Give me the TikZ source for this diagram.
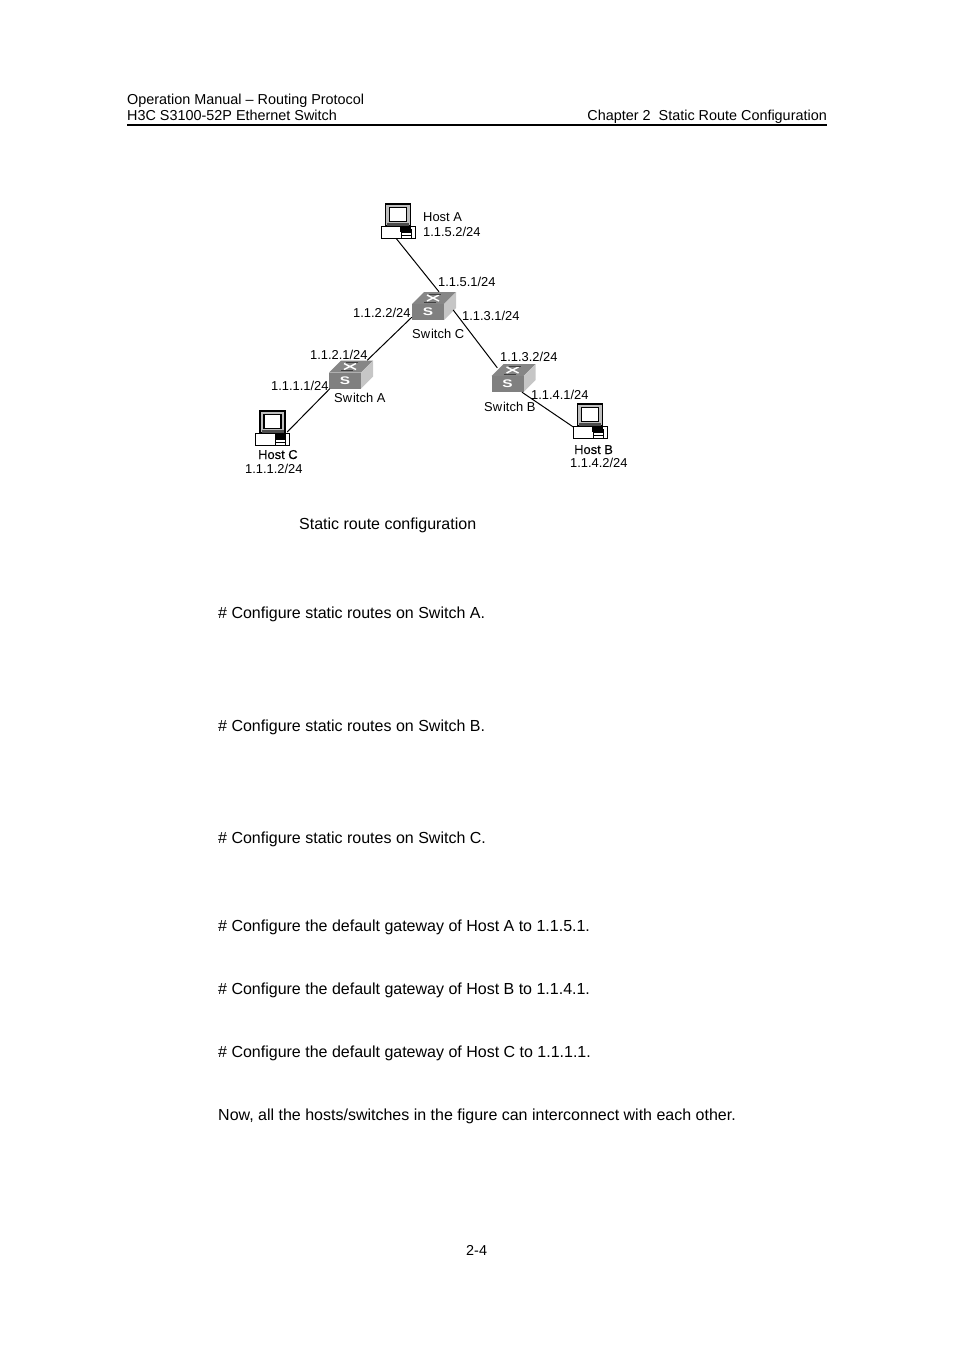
\documentclass[tikz,border=0pt]{standalone}
\usepackage{fontspec}
\setmainfont{Liberation Sans}
\newfontfamily\hostfont[FakeBold=0.12]{Liberation Sans}
\newcommand{\switchicon}[3]{
	\node[devbox,minimum width=44pt,minimum height=28pt] (#1) at (#2,#3) {};
	\begin{scope}[shift={(#2,#3)}]
		\fill[gray!95] (-22,-2) -- (-10,-14) -- (22,-14) -- (10,-2) -- cycle;
		\fill[gray!45] (10,-2) -- (22,-14) -- (22,2) -- (10,14) -- cycle;
		\fill[gray!100] (-22,-2) rectangle (10,14);
		\draw[white,line width=1.4pt] (-7,-5) -- (5,-11) (-7,-11) -- (5,-5);
		\draw[black!75,line width=0.5pt] (-5,-12) -- (7,-12) (-10,-4) -- (2,-4);
		\node[inner sep=0pt,text=white,anchor=center,font=\fontsize{11}{11}\selectfont\bfseries] (#1s) at (-6,6) {\scalebox{1.4}[1]{S}};
	\end{scope}
}
\newcommand{\hosticon}[3]{
	\node[devbox,minimum width=35pt,minimum height=34pt] (#1) at (#2,#3) {};
	\begin{scope}[shift={(#2,#3)},line width=0.8pt]
		\draw[fill=black!25,line width=1.2pt] (-12.5,-17) rectangle (12.5,5);
		\draw[fill=white,line width=1.5pt] (-8.5,-13.5) rectangle (8.5,0.5);
		\fill[black!70] (-11,2) rectangle (11,5);
		\draw[fill=white,line width=1pt] (-17,5) rectangle (17,17);
		\fill[black] (2,5) rectangle (13,10.5);
		\draw (-17,5.5) -- (2,5.5);
		\draw (3,8) rectangle (13,17);
		\draw[line width=0.7pt] (3,11.5) -- (13,11.5) (3,14) -- (13,14);
	\end{scope}
}
\begin{document}
\begin{tikzpicture}[x=1pt,y=-1pt]
	\tikzstyle{every node}=[inner sep=0pt,anchor=base west]
	\tikzstyle{devbox}=[rectangle,anchor=center]
	\tikzstyle{headtext}=[font=\fontsize{14.4}{14.4}\selectfont]
	\tikzstyle{pagetext}=[font=\fontsize{16}{16}\selectfont]
	\tikzstyle{smalltext}=[font=\fontsize{12.9}{13}\selectfont]
	\tikzstyle{hosttext}=[font=\fontsize{12.9}{13}\hostfont]
	\tikzstyle{link}=[draw,line width=1pt]
	\useasboundingbox (0,0) rectangle (954,1350);

	% page header
	\node[headtext] (manual) at (127,104) {Operation Manual -- Routing Protocol};
	\node[headtext] (product) at (127,120) {H3C S3100-52P Ethernet Switch};
	\node[headtext,anchor=base east] (chapter) at (827,120) {Chapter 2\ \ Static Route Configuration};
	\coordinate (ruleleft) at (127,124.8);
	\coordinate (ruleright) at (827,124.8);
	\draw[line width=1.5pt] (ruleleft) -- (ruleright);

	% devices
	\switchicon{switchC}{434}{306}
	\switchicon{switchA}{351}{374.5}
	\switchicon{switchB}{513.5}{378}
	\hosticon{hostA}{398}{221}
	\hosticon{hostC}{272.5}{428}
	\hosticon{hostB}{590}{421}

	% links
	\draw[link] ([shift={(-2,0)}]hostA.south) -- ([shift={(5,0)}]switchC.north);
	\draw[link] ([shift={(0,-3)}]switchC.south west) -- ([shift={(-6,0)}]switchA.north east);
	\draw[link] ([shift={(1,0)}]switchA.south west) -- ([shift={(-3,4)}]hostC.east);
	\draw[link] ([shift={(-3,4)}]switchC.east) -- ([shift={(6,4)}]switchB.north west);
	\draw[link] ([shift={(8.5,0)}]switchB.south) -- ([shift={(1,6)}]hostB.west);

	% addresses
	\foreach \name/\x/\y/\txt in {
		addrA/423/236/1.1.5.2\slash 24,
		addrCa/438/286/1.1.5.1\slash 24,
		addrCb/353/317/1.1.2.2\slash 24,
		addrCc/462/320/1.1.3.1\slash 24,
		addrBa/500/361/1.1.3.2\slash 24,
		addrAa/310/359/1.1.2.1\slash 24,
		addrAb/271/390/1.1.1.1\slash 24,
		addrBb/531/399/1.1.4.1\slash 24,
		addrHB/570/467/1.1.4.2\slash 24,
		addrHC/245/473/1.1.1.2\slash 24,
		labelA/423/221/Host A,
		labelSC/412/338/Sw\kern1pt itch C,
		labelSA/334/402/Sw\kern1pt itch A,
		labelSB/484/411/Sw\kern1pt itch B}
	{
		\node[smalltext] (\name) at (\x,\y) {\txt};
	}
	\node[hosttext] (labelB) at (574,454) {Host B};
	\node[hosttext] (labelC) at (258,459) {Host C};

	% page text
	\foreach \name/\x/\y/\txt in {
		caption/299/529/Static route configuration,
		stepA/218/618/\# Configure static routes on Switch A.,
		stepB/218/731/\# Configure static routes on Switch B.,
		stepC/218/843/\# Configure static routes on Switch C.,
		gateA/218/931/\# Configure the default gateway of Host A to 1.1.5.1.,
		gateB/218/994/\# Configure the default gateway of Host B to 1.1.4.1.,
		gateC/218/1057/\# Configure the default gateway of Host C to 1.1.1.1.,
		closing/218/1120/Now{,} all the hosts\slash switches in the figure can interconnect with each other.}
	{
		\node[pagetext] (\name) at (\x,\y) {\txt};
	}
	\node[headtext] (pagenum) at (466,1255) {2-4};
\end{tikzpicture}
\end{document}
